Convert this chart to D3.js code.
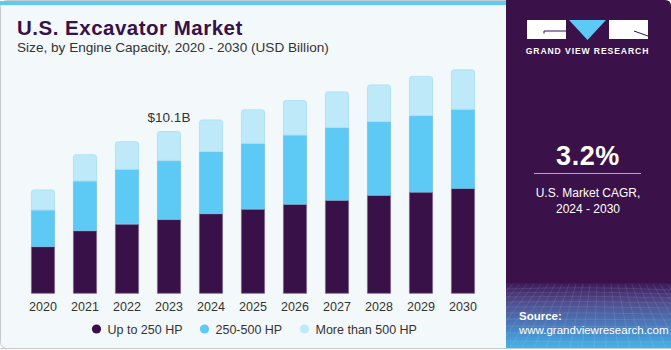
<!DOCTYPE html>
<html>
<head>
<meta charset="utf-8">
<script src="https://cdn.jsdelivr.net/npm/d3@7"></script>
<style>
  body { margin: 0; background: #fff; }
  svg { display: block; font-family: "Liberation Sans", Arial, sans-serif; }
</style>
</head>
<body>
<div id="chart"></div>
<script>
const years = ["2020", "2021", "2022", "2023", "2024", "2025", "2026", "2027", "2028", "2029", "2030"]
const upTo250 = [2.92, 3.91, 4.32, 4.61, 4.97, 5.25, 5.55, 5.80, 6.11, 6.31, 6.54]
const hp250to500 = [2.27, 3.08, 3.40, 3.66, 3.85, 4.08, 4.30, 4.52, 4.58, 4.75, 4.91]
const over500 = [1.27, 1.66, 1.74, 1.82, 1.99, 2.11, 2.17, 2.24, 2.30, 2.46, 2.48]
const seriesNames = ["Up to 250 HP", "250-500 HP", "More than 500 HP"]
const annotation = {year: "2023", label: "$10.1B"}

const W = 671, H = 350
const purple = "#371148"
const colors = ["#371148", "#5ccaf5", "#bde9f8"]
const strokes = ["#7c6590", "#74c3e6", "#ace0f3"]

const svg = d3.select("#chart")
	.append("svg")
	.attr("width", W)
	.attr("height", H)

const defs = svg.append("defs")
const grad = defs.append("linearGradient")
	.attr("id", "bottomGrad")
	.attr("x1", 0).attr("y1", 0).attr("x2", 0).attr("y2", 1)
grad.append("stop").attr("offset", "0%").attr("stop-color", "#3d1a5a")
grad.append("stop").attr("offset", "30%").attr("stop-color", "#4f4d8e")
grad.append("stop").attr("offset", "70%").attr("stop-color", "#4a82c2")
grad.append("stop").attr("offset", "100%").attr("stop-color", "#45b4e8")

// left panel
svg.append("rect")
	.attr("x", 0.5).attr("y", 0.5)
	.attr("width", 520).attr("height", 348)
	.attr("rx", 6)
	.attr("fill", "#f3f8fb")
	.attr("stroke", "#c8cbce")
svg.append("rect")
	.attr("x", 0).attr("y", 1)
	.attr("width", 506).attr("height", 4)
	.attr("fill", "#5ccaf5")

// right panel
svg.append("path")
	.attr("d", `M506,0 H665 Q671,0 671,6 V283 H506 Z`)
	.attr("fill", "#3a1249")
svg.append("rect")
	.attr("x", 506).attr("y", 283)
	.attr("width", 165).attr("height", 65)
	.attr("fill", "url(#bottomGrad)")

// faint grid in the bottom band
const gridG = svg.append("g")
	.attr("stroke", "#ffffff")
	.attr("stroke-opacity", 0.16)
	.attr("stroke-width", 0.6)
	.attr("fill", "none")
const hLines = [289, 293, 297, 302, 307, 313, 319, 326, 333, 341]
hLines.forEach(function(y, i) {
	gridG.append("path")
		.attr("d", `M506,${y} Q588,${y - 3 + i * 0.5} 671,${y + 1}`)
})
d3.range(0, 26).forEach(function(i) {
	const xTop = 506 + i * 7
	const xBot = 506 + (i - 13) * 12 + 88
	gridG.append("line")
		.attr("x1", xTop).attr("y1", 284)
		.attr("x2", xBot).attr("y2", 348)
})
svg.append("line")
	.attr("x1", 0).attr("x2", W)
	.attr("y1", 348.5).attr("y2", 348.5)
	.attr("stroke", "#c8cbce")

// titles
svg.append("text")
	.attr("x", 17).attr("y", 35)
	.attr("fill", purple)
	.attr("font-size", 20.5)
	.attr("font-weight", "bold")
	.attr("letter-spacing", 0.5)
	.text("U.S. Excavator Market")
svg.append("text")
	.attr("x", 17).attr("y", 52)
	.attr("fill", "#333")
	.attr("font-size", 13.6)
	.text("Size, by Engine Capacity, 2020 - 2030 (USD Billion)")

// chart
const x = d3.scaleBand()
	.domain(years)
	.range([22, 484])
	.paddingInner(0.43)
	.paddingOuter(0.215)

const y = d3.scaleLinear()
	.domain([0, 14])
	.range([293.3, 68.3])

const table = years.map(function(yr, i) {
	return {year: yr, a: upTo250[i], b: hp250to500[i], c: over500[i]}
})
const stack = d3.stack().keys(["a", "b", "c"])(table)

const bars = svg.append("g")
stack.forEach(function(layer, li) {
	bars.selectAll(null)
		.data(layer)
		.enter()
		.append("path")
		.attr("fill", colors[li])
		.attr("stroke", strokes[li])
		.attr("stroke-width", 0.8)
		.attr("d", function(d) {
			const x0 = x(d.data.year) + 0.4, x1 = x0 + x.bandwidth() - 0.8
			const top = y(d[1]) + 0.4, bot = y(d[0])
			if (li === 2) {
				const r = 2.5
				return `M${x0},${bot} V${top + r} Q${x0},${top} ${x0 + r},${top} H${x1 - r} Q${x1},${top} ${x1},${top + r} V${bot} Z`
			}
			return `M${x0},${bot} V${top} H${x1} V${bot} Z`
		})
})

// x axis labels
const xAxis = svg.append("g")
	.attr("transform", `translate(0,${y(0)})`)
	.call(d3.axisBottom(x).tickSize(0).tickPadding(9))
xAxis.select(".domain").remove()
xAxis.selectAll("text")
	.attr("font-family", "Liberation Sans, Arial, sans-serif")
	.attr("font-size", 12.5)
	.attr("fill", "#333")

// annotation
const annIdx = years.indexOf(annotation.year)
svg.append("text")
	.attr("x", x(annotation.year) + x.bandwidth() / 2)
	.attr("y", y(upTo250[annIdx] + hp250to500[annIdx] + over500[annIdx]) - 9.5)
	.attr("text-anchor", "middle")
	.attr("font-size", 13.5)
	.attr("fill", "#333")
	.text(annotation.label)

// legend
const legendX = [96.5, 204.5, 304.5]
const legend = svg.append("g")
seriesNames.forEach(function(name, i) {
	legend.append("circle")
		.attr("cx", legendX[i]).attr("cy", 329)
		.attr("r", 4.6)
		.attr("fill", colors[i])
	legend.append("text")
		.attr("x", legendX[i] + 11).attr("y", 333.5)
		.attr("font-size", 12.5)
		.attr("fill", "#333")
		.text(name)
})

// logo
const logo = svg.append("g")
logo.append("rect").attr("x", 527).attr("y", 20).attr("width", 39).attr("height", 19).attr("fill", "#fff")
logo.append("path").attr("d", "M569,20 H606 L587.5,40 Z").attr("fill", "#5ccaf5")
logo.append("rect").attr("x", 609).attr("y", 20).attr("width", 39).attr("height", 19).attr("fill", "#fff")
logo.append("path").attr("d", "M544,33.5 V31 H566").attr("stroke", purple).attr("stroke-width", 1).attr("fill", "none")
logo.append("path").attr("d", "M634,31 L648,36").attr("stroke", purple).attr("stroke-width", 1).attr("fill", "none")
logo.append("text")
	.attr("x", 587.5).attr("y", 53.5)
	.attr("text-anchor", "middle")
	.attr("fill", "#fff")
	.attr("font-size", 8.6)
	.attr("font-weight", "bold")
	.attr("letter-spacing", 0.9)
	.text("GRAND VIEW RESEARCH")

// CAGR
svg.append("text")
	.attr("x", 588).attr("y", 164.5)
	.attr("text-anchor", "middle")
	.attr("fill", "#fff")
	.attr("font-size", 27)
	.attr("font-weight", "bold")
	.attr("letter-spacing", 0.6)
	.text("3.2%")
svg.append("line")
	.attr("x1", 534).attr("x2", 641)
	.attr("y1", 173.5).attr("y2", 173.5)
	.attr("stroke", "#b8a6c6")
	.attr("stroke-width", 1.2)
svg.append("text")
	.attr("x", 588).attr("y", 196.5)
	.attr("text-anchor", "middle")
	.attr("fill", "#fff")
	.attr("font-size", 12)
	.text("U.S. Market CAGR,")
svg.append("text")
	.attr("x", 588).attr("y", 213)
	.attr("text-anchor", "middle")
	.attr("fill", "#fff")
	.attr("font-size", 12)
	.text("2024 - 2030")

// source
svg.append("text")
	.attr("x", 519).attr("y", 320)
	.attr("fill", "#fff")
	.attr("font-size", 11.5)
	.attr("font-weight", "bold")
	.text("Source:")
svg.append("text")
	.attr("x", 519).attr("y", 334)
	.attr("fill", "#fff")
	.attr("font-size", 11.5)
	.text("www.grandviewresearch.com")
</script>
</body>
</html>
